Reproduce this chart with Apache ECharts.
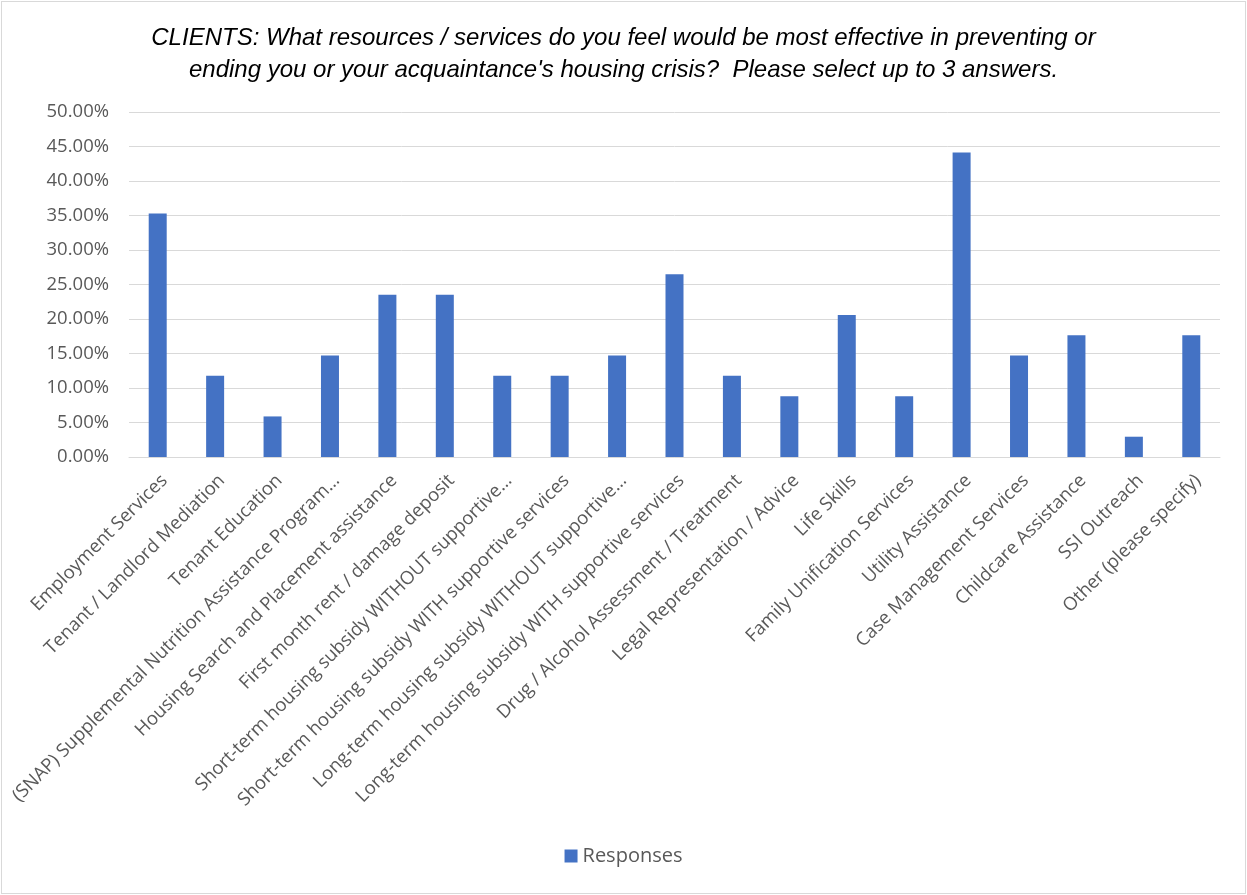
<!DOCTYPE html>
<html>
<head>
<meta charset="utf-8">
<script src="https://cdn.jsdelivr.net/npm/echarts@6/dist/echarts.min.js"></script>
<style>
  html, body { margin: 0; padding: 0; background: #fff; }
  #frame { position: absolute; left: 1px; top: 1px; width: 1243px; height: 891px; border: 1px solid #d9d9d9; }
  #chart { width: 1247px; height: 895px; position: absolute; left: 0; top: 0; }
</style>
</head>
<body>
<div id="frame"></div>
<div id="chart"></div>
<script>
const titleLines = [
  "CLIENTS: What resources / services do you feel would be most effective in preventing or",
  "ending you or your acquaintance's housing crisis?  Please select up to 3 answers."
];
const categories = [
  "Employment Services",
  "Tenant / Landlord Mediation",
  "Tenant Education",
  "(SNAP) Supplemental Nutrition Assistance Program…",
  "Housing Search and Placement assistance",
  "First month rent / damage deposit",
  "Short-term housing subsidy WITHOUT supportive…",
  "Short-term housing subsidy WITH supportive services",
  "Long-term housing subsidy WITHOUT supportive…",
  "Long-term housing subsidy WITH supportive services",
  "Drug / Alcohol Assessment / Treatment",
  "Legal Representation / Advice",
  "Life Skills",
  "Family Unification Services",
  "Utility Assistance",
  "Case Management Services",
  "Childcare Assistance",
  "SSI Outreach",
  "Other (please specify)"
];
const seriesName = "Responses";
const responses = [
  0.3529, 0.1176, 0.0588, 0.1471, 0.2353, 0.2353, 0.1176, 0.1176, 0.1471, 0.2647,
  0.1176, 0.0882, 0.2059, 0.0882, 0.4412, 0.1471, 0.1765, 0.0294, 0.1765
];
const yMin = 0, yMax = 0.5, yStep = 0.05;

const labelFont = "'Open Sans', 'Noto Sans', sans-serif";
const chart = echarts.init(document.getElementById('chart'), null, { renderer: 'canvas' });
chart.setOption({
  animation: false,
  backgroundColor: 'transparent',
  title: {
    text: titleLines.join('\n'),
    left: 'center',
    top: 17,
    textStyle: {
      fontFamily: "'Liberation Sans', Arial, sans-serif",
      fontStyle: 'italic',
      fontWeight: 'normal',
      fontSize: 24,
      lineHeight: 32,
      color: '#000'
    }
  },
  legend: {
    data: [seriesName],
    bottom: 24,
    left: 'center',
    itemWidth: 13,
    itemHeight: 13,
    itemGap: 6,
    icon: 'rect',
    textStyle: { fontFamily: labelFont, fontSize: 20, color: '#595959' }
  },
  grid: { left: 129, right: 27, top: 112, bottom: 438, containLabel: false },
  xAxis: {
    type: 'category',
    data: categories,
    axisLine: { lineStyle: { color: '#d9d9d9', width: 1 } },
    axisTick: { show: false },
    axisLabel: {
      interval: 0,
      rotate: 45,
      margin: 14,
      verticalAlign: 'top',
      fontFamily: labelFont,
      fontSize: 18.5,
      color: '#595959'
    }
  },
  yAxis: {
    type: 'value',
    min: yMin,
    max: yMax,
    interval: yStep,
    axisLine: { show: false },
    axisTick: { show: false },
    splitLine: { lineStyle: { color: '#d9d9d9', width: 1 } },
    axisLabel: {
      margin: 20,
      fontFamily: labelFont,
      fontSize: 18.5,
      color: '#595959',
      formatter: v => (v * 100).toFixed(2) + '%'
    }
  },
  series: [{
    name: seriesName,
    type: 'bar',
    data: responses,
    barWidth: 18,
    itemStyle: { color: '#4472C4' }
  }]
});
</script>
</body>
</html>
